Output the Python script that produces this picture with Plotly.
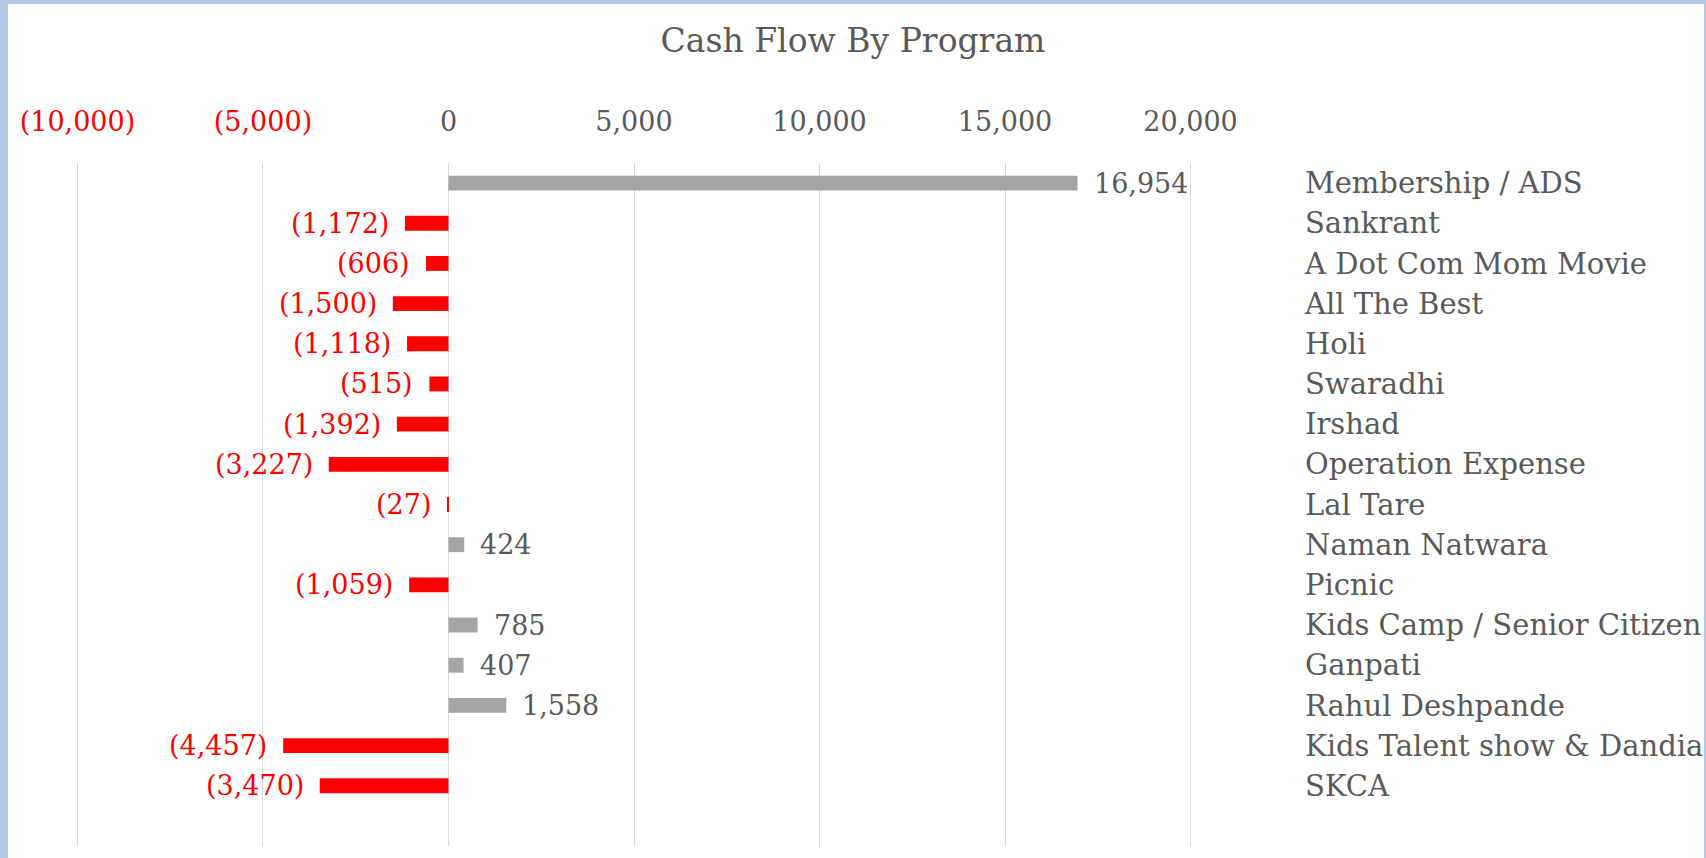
import plotly.graph_objects as go

categories = ["Membership / ADS", "Sankrant", "A Dot Com Mom Movie", "All The Best", "Holi",
              "Swaradhi", "Irshad", "Operation Expense", "Lal Tare", "Naman Natwara", "Picnic",
              "Kids Camp / Senior Citizen", "Ganpati", "Rahul Deshpande",
              "Kids Talent show & Dandia", "SKCA"]
values = [16954, -1172, -606, -1500, -1118, -515, -1392, -3227, -27, 424, -1059, 785, 407,
          1558, -4457, -3470]
tick_values = [-10000, -5000, 0, 5000, 10000, 15000, 20000]
tick_labels = ["(10,000)", "(5,000)", "0", "5,000", "10,000", "15,000", "20,000"]

GRAY_BAR = "#A5A5A5"
RED = "#FF0000"
TEXT = "#595959"
FONT = "DejaVu Serif"

W, H = 1706, 858
L, R, T, B = 76, 514, 163, 12


def fmt(v):
    s = f"{abs(v):,}"
    return f"({s})" if v < 0 else s


colors = [RED if v < 0 else GRAY_BAR for v in values]

fig = go.Figure(go.Bar(
    x=values, y=categories, orientation="h",
    marker=dict(color=colors, line=dict(width=0)),
    width=0.37, hoverinfo="skip",
))

ticktext = [f"<span style='color:{RED}'>{t}</span>" if v < 0 else t
            for v, t in zip(tick_values, tick_labels)]

annotations = []
for c, v in zip(categories, values):
    annotations.append(dict(
        x=v, y=c, xref="x", yref="y", text=fmt(v), showarrow=False,
        xanchor="right" if v < 0 else "left", yanchor="middle",
        xshift=-14 if v < 0 else 14,
        font=dict(family=FONT, size=27, color=RED if v < 0 else TEXT),
    ))

pw = W - L - R
ph = H - T - B


def px_x(p):
    return (p - L) / pw


def px_y(p):
    return 1 - (p - T) / ph


BORDER = "#B4C7E7"
shapes = [
    dict(type="rect", xref="paper", yref="paper", x0=px_x(0), x1=px_x(8), y0=px_y(H), y1=px_y(0),
         fillcolor=BORDER, line=dict(width=0), layer="above"),
    dict(type="rect", xref="paper", yref="paper", x0=px_x(0), x1=px_x(W), y0=px_y(4), y1=px_y(0),
         fillcolor=BORDER, line=dict(width=0), layer="above"),
    dict(type="rect", xref="paper", yref="paper", x0=px_x(W - 2), x1=px_x(W), y0=px_y(H), y1=px_y(0),
         fillcolor=BORDER, line=dict(width=0), layer="above"),
]

fig.update_layout(
    width=W, height=H,
    margin=dict(l=L, r=R, t=T, b=B, autoexpand=False),
    paper_bgcolor="white", plot_bgcolor="white",
    font=dict(family=FONT, color=TEXT),
    title=dict(text="Cash Flow By Program", x=0.5, xref="container", xanchor="center",
               y=1 - 40 / H, yref="container", yanchor="middle",
               font=dict(family=FONT, size=33, color=TEXT)),
    showlegend=False,
    bargap=0.63,
    annotations=annotations,
    shapes=shapes,
    xaxis=dict(range=[-10040, 20040], side="top", tickvals=tick_values, ticktext=ticktext,
               showgrid=True, gridcolor="#D9D9D9", gridwidth=1, zeroline=False,
               showline=False, ticks="", ticklabelstandoff=26,
               tickfont=dict(family=FONT, size=27, color=TEXT), fixedrange=True),
    yaxis=dict(type="category", categoryorder="array", categoryarray=categories,
               range=[len(categories) + 0.5, -0.5], side="right", showgrid=False,
               zeroline=False, showline=False, ticks="", ticklabelstandoff=112,
               tickfont=dict(family=FONT, size=29, color=TEXT), fixedrange=True),
)

fig.write_html("out.html", config={"displayModeBar": False},
               post_script="document.body.style.margin='0';document.body.style.overflow='hidden';")
